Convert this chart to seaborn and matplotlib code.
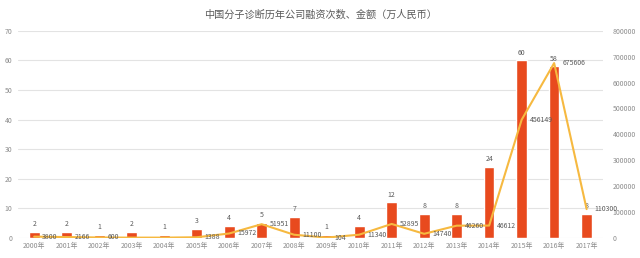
import numpy as np
import pandas as pd
import matplotlib
matplotlib.use("Agg")
import matplotlib.pyplot as plt
import seaborn as sns

years = [f"{y}年" for y in range(2000, 2018)]
counts = [2, 2, 1, 2, 1, 3, 4, 5, 7, 1, 4, 12, 8, 8, 24, 60, 58, 8]
amounts = [3800, 2166, 600, 0, 0, 1388, 15972, 51951, 11100, 104, 11340,
           52895, 14740, 46260, 46612, 456149, 675606, 110300]
title = "中国分子诊断历年公司融资次数、金额（万人民币）"

sns.set_theme(style="white")
plt.rcParams['font.family'] = ['Noto Sans CJK SC', 'DejaVu Sans']

BAR = "#E84A1E"
LINE = "#F6B940"
TXT = "#595959"
TICK = "#8C8C8C"
GRID = "#E3E3E3"
FS = 5

df = pd.DataFrame({"year": years, "count": counts, "amount": amounts})
df["pos"] = np.arange(len(df))

fig = plt.figure(figsize=(6.4, 2.58), dpi=100)
ax = fig.add_axes([0.028, 0.079, 0.914, 0.801])
sns.barplot(data=df, x="year", y="count", color=BAR, width=0.33, ax=ax,
            saturation=1, zorder=2)
ax.set_ylim(0, 70)
ax.set_yticks(range(0, 71, 10))
ax.set_xlim(-0.5, len(df) - 0.5)
ax.yaxis.grid(True, color=GRID, linewidth=0.8, zorder=0)
ax.set_axisbelow(True)
ax.set_xlabel("")
ax.set_ylabel("")
for s in ax.spines.values():
    s.set_visible(False)
ax.tick_params(axis="both", length=0, labelsize=FS, colors=TICK, pad=3)
ax.tick_params(axis="y", pad=4)

for i, c in enumerate(counts):
    ax.text(i, c + 1.2, str(c), ha="center", va="bottom", fontsize=FS, color=TXT)

ax2 = ax.twinx()
sns.lineplot(data=df, x="pos", y="amount", color=LINE, linewidth=1.5, ax=ax2, zorder=3)
ax2.set_ylim(0, 800000)
ax2.set_yticks(range(0, 800001, 100000))
ax2.set_xlim(-0.5, len(df) - 0.5)
ax2.set_xlabel("")
ax2.set_ylabel("")
for s in ax2.spines.values():
    s.set_visible(False)
ax2.tick_params(axis="both", length=0, labelsize=FS, colors=TICK, pad=3)
ax2.tick_params(axis="y", pad=7)
ax2.grid(False)

for i, a in enumerate(amounts):
    if a > 0:
        ax2.text(i + 0.25, a, str(a), ha="left", va="center",
                 fontsize=FS, color=TXT)

fig.text(0.5, 0.942, title, ha="center", va="center", fontsize=7.3, color=TXT)

fig.savefig("out.png", dpi=100)
